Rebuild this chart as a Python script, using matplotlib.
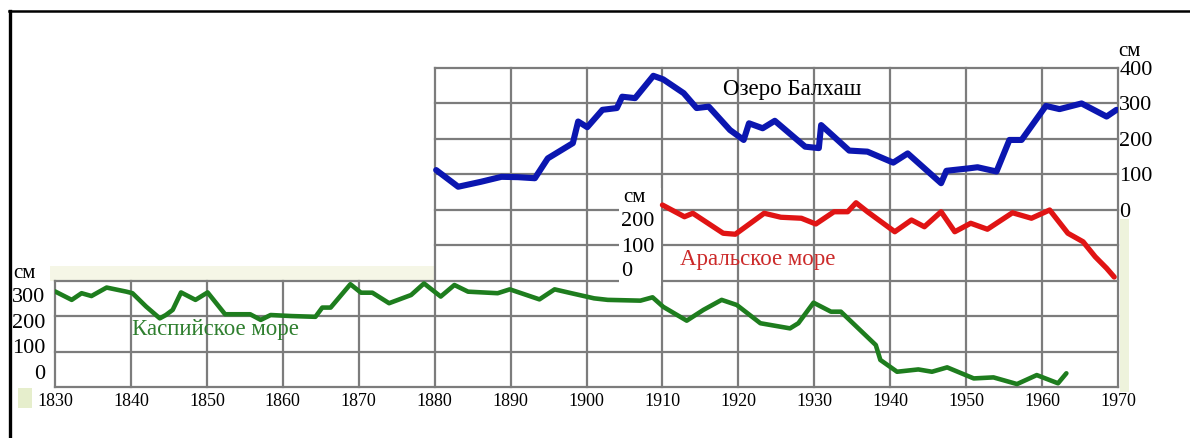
import matplotlib
matplotlib.use("Agg")
import matplotlib.pyplot as plt
from matplotlib.lines import Line2D
from matplotlib.patches import Rectangle

# ---------------- data ----------------
decades = list(range(1830, 1971, 10))
year_labels = [str(d) for d in decades]

caspian_years = [1830.0, 1832.2, 1833.5, 1834.8, 1836.8, 1839.4, 1840.2, 1842.0, 1843.8,
                 1844.6, 1845.5, 1846.6, 1848.5, 1850.1, 1852.4, 1855.7, 1857.1, 1858.4,
                 1861.1, 1864.3, 1865.2, 1866.3, 1868.9, 1870.3, 1871.8, 1874.0, 1876.9,
                 1878.6, 1880.8, 1882.6, 1884.4, 1888.3, 1889.9, 1891.4, 1893.8, 1895.8,
                 1898.0, 1901.0, 1902.8, 1907.1, 1908.7, 1910.1, 1913.2, 1915.4, 1917.8,
                 1919.8, 1922.9, 1926.8, 1927.9, 1929.9, 1932.2, 1933.5, 1938.1, 1938.7,
                 1940.9, 1943.7, 1945.5, 1947.5, 1951.0, 1953.6, 1956.7, 1959.3, 1962.1,
                 1963.2]
caspian_cm = [314, 281, 307, 296, 329, 313, 307, 255, 209,
              222, 242, 310, 281, 310, 225, 225, 203, 222,
              218, 215, 251, 251, 342, 309, 309, 268, 300,
              345, 294, 339, 313, 307, 322, 307, 283, 322,
              307, 287, 281, 278, 291, 254, 200, 242, 281,
              261, 190, 170, 190, 270, 235, 235, 105, 47,
              1, 10, 1, 18, -25, -21, -47, -12, -44,
              -5]

balkhash_years = [1880.2, 1883.1, 1886.1, 1888.8, 1891.0, 1893.2, 1894.9, 1898.2, 1898.9,
                  1900.1, 1902.1, 1904.0, 1904.7, 1906.4, 1908.8, 1910.1, 1912.8, 1914.5,
                  1916.1, 1918.9, 1920.7, 1921.4, 1923.2, 1924.8, 1928.8, 1930.6, 1930.9,
                  1932.6, 1934.6, 1937.0, 1940.4, 1942.3, 1946.7, 1947.4, 1950.4, 1951.5,
                  1954.0, 1955.7, 1957.3, 1960.5, 1962.3, 1965.2, 1968.5, 1969.8]
balkhash_cm = [112, 65, 79, 93, 92, 89, 145, 188, 249,
               233, 282, 287, 319, 315, 378, 368, 329, 287,
               291, 225, 197, 244, 230, 251, 178, 174, 239,
               206, 167, 164, 133, 159, 75, 110, 117, 120,
               108, 197, 197, 293, 284, 300, 263, 282]

aral_years = [1910.0, 1912.9, 1914.0, 1918.0, 1919.6, 1923.4, 1925.6, 1928.3, 1930.2,
              1932.6, 1934.4, 1935.5, 1937.0, 1940.6, 1942.8, 1944.5, 1946.7, 1948.5,
              1950.6, 1952.8, 1956.1, 1958.6, 1961.0, 1963.4, 1965.4, 1967.0, 1968.5,
              1969.5]
aral_cm = [268, 221, 235, 155, 151, 235, 219, 215, 192,
           241, 241, 277, 241, 161, 208, 181, 241, 161,
           195, 171, 237, 215, 248, 155, 121, 61, 15,
           -20]

caspian_ticks = [0, 100, 200, 300]
balkhash_ticks = [0, 100, 200, 300, 400]
aral_ticks = [0, 100, 200]

# ---------------- layout helpers ----------------
W, H = 1190, 438
def fx(px):
    return px / W
def fy(py):
    return 1 - py / H

AX_L, AX_R, AX_T, AX_B = 55, 1118, 68, 387      # pixel box of the whole grid
ROWS = 9
row_px = (AX_B - AX_T) / ROWS
rect = [fx(AX_L), fy(AX_B), fx(AX_R) - fx(AX_L), fy(AX_T) - fy(AX_B)]

def lim_from_anchors(v0, p0, v1, p1):
    k = (v1 - v0) / (p0 - p1)
    return v0 - (AX_B - p0) * k, v0 + (p0 - AX_T) * k

plt.rcParams['font.family'] = ['Liberation Serif', 'DejaVu Serif']

NUM_FS = 16
LBL_FS = 16.5

fig = plt.figure(figsize=(W / 100, H / 100), dpi=100)
fig.patch.set_facecolor('white')

GRID_C = '#7c7c7c'
GRID_LW = 1.6

# ---------------- grid axes ----------------
g = fig.add_axes(rect)
g.set_xlim(1830, 1970)
g.set_ylim(0, ROWS)
g.axis('off')
g.add_patch(Rectangle((1829.3, 3.0), 50.7, 0.42, facecolor='#f5f6e6', edgecolor='none',
                      zorder=0, clip_on=False))
g.add_patch(Rectangle((1970.2, -0.15), 1.2, 4.9, facecolor='#eef3dc', edgecolor='none',
                      zorder=0, clip_on=False))
for d in decades:
    top = 3 if d < 1880 else ROWS
    g.plot([d, d], [0, top], color=GRID_C, lw=GRID_LW, solid_capstyle='projecting',
           zorder=1, clip_on=False)
for r in range(ROWS + 1):
    x0 = 1830 if r <= 3 else 1880
    g.plot([x0, 1970], [r, r], color=GRID_C, lw=GRID_LW, solid_capstyle='projecting',
           zorder=1, clip_on=False)
g.add_patch(Rectangle((1904.3, (AX_B - 286) / row_px), 5.45, (286 - 188) / row_px,
                      facecolor='white', edgecolor='none', zorder=2))

# ---------------- Caspian ----------------
ac = fig.add_axes(rect, sharex=g)
ac.patch.set_visible(False)
ac.set_ylim(*lim_from_anchors(0, 372, 300, 295))
ac.plot(caspian_years, caspian_cm, color='#1e7d1e', lw=3.3, solid_joinstyle='round',
        solid_capstyle='round', zorder=3)
for s in ac.spines.values():
    s.set_visible(False)
ac.set_yticks(caspian_ticks)
ac.set_yticklabels([str(t) for t in caspian_ticks])
ac.tick_params(axis='y', length=0, pad=7, labelsize=NUM_FS)
ac.set_xticks(decades)
ac.set_xticklabels(year_labels)
ac.tick_params(axis='x', length=0, pad=4, labelsize=13)
ac.set_xlim(1830, 1970)

# ---------------- Balkhash ----------------
ab = fig.add_axes(rect, sharex=g)
ab.patch.set_visible(False)
ab.set_ylim(*lim_from_anchors(0, AX_T + 4 * row_px, 400, AX_T))
ab.plot(balkhash_years, balkhash_cm, color='#0b16b0', lw=4.4, solid_joinstyle='round',
        solid_capstyle='round', zorder=3)
for s in ab.spines.values():
    s.set_visible(False)
ab.xaxis.set_visible(False)
ab.yaxis.tick_right()
ab.set_yticks(balkhash_ticks)
ab.set_yticklabels([str(t) for t in balkhash_ticks])
ab.tick_params(axis='y', length=0, pad=1, labelsize=NUM_FS)

# ---------------- Aral ----------------
aa = fig.add_axes(rect, sharex=g)
aa.patch.set_visible(False)
aa.set_ylim(*lim_from_anchors(0, 272, 200, 222))
aa.plot(aral_years, aral_cm, color='#e01414', lw=3.8, solid_joinstyle='round',
        solid_capstyle='round', zorder=3)
aa.axis('off')
for t in aral_ticks:
    aa.text(1904.6, t, str(t), ha='left', va='center', fontsize=NUM_FS, zorder=4)

# ---------------- texts ----------------
fig.text(fx(13), fy(273), 'см', ha='left', va='center', fontsize=15)
fig.text(fx(1118), fy(51), 'см', ha='left', va='center', fontsize=15)
fig.text(fx(623), fy(198), 'см', ha='left', va='center', fontsize=15)
fig.text(fx(132), fy(330), 'Каспийское море', ha='left', va='center', fontsize=LBL_FS,
         color='#2f7f2f')
fig.text(fx(723), fy(90), 'Озеро Балхаш', ha='left', va='center', fontsize=LBL_FS,
         color='black')
fig.text(fx(680), fy(259), 'Аральское море', ha='left', va='center', fontsize=LBL_FS,
         color='#cc2a2a')

fig.add_artist(Rectangle((fx(18), fy(408)), fx(14), fy(388) - fy(408),
                         facecolor='#e6eecc', edgecolor='none', transform=fig.transFigure))

# ---------------- frame (top and left only) ----------------
fig.add_artist(Line2D([fx(9), 1.0], [fy(11), fy(11)], color='black', lw=1.8,
                      transform=fig.transFigure))
fig.add_artist(Line2D([fx(9.5), fx(9.5)], [fy(11), 0.0], color='black', lw=2.4,
                      transform=fig.transFigure))

fig.savefig('out.png', dpi=100)
